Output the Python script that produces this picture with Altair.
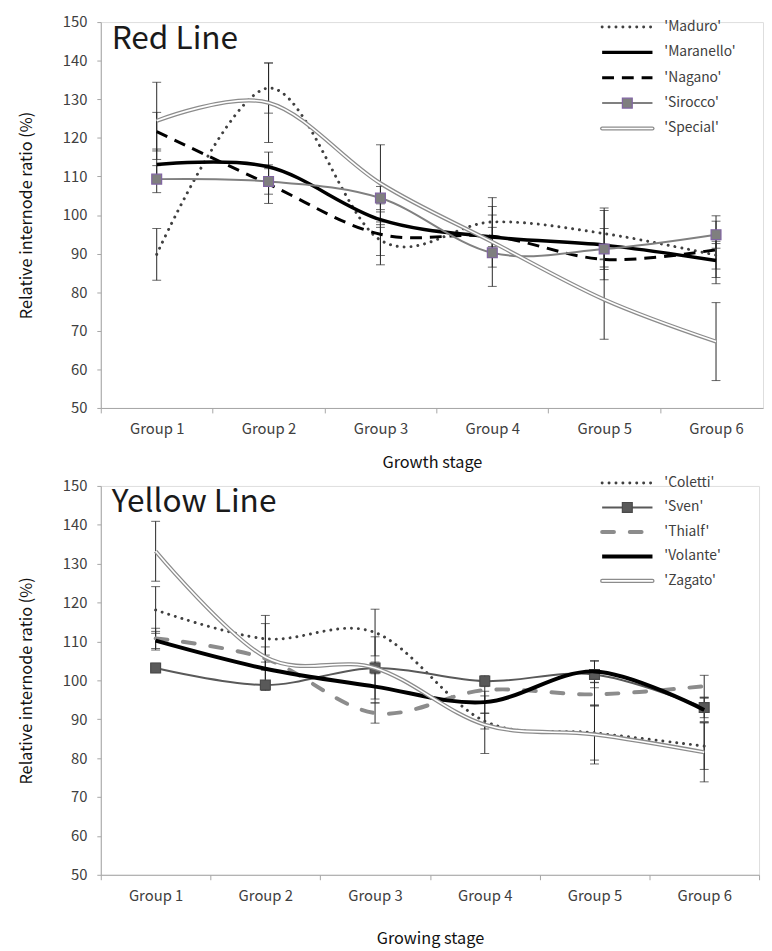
import altair as alt
import pandas as pd

FONT = "Noto Sans CJK KR"

stages = [1, 2, 3, 4, 5, 6]
group_labels = ["Group 1", "Group 2", "Group 3", "Group 4", "Group 5", "Group 6"]

# ---- Red Line panel ----
red_names = ["'Maduro'", "'Maranello'", "'Nagano'", "'Sirocco'", "'Special'"]
maduro = [89.8, 132.9, 93.5, 98.2, 95.2, 89.6]
maduro_err = [6.7, 6.5, 4.0, 4.0, 6.6, 3.6]
maranello = [113.1, 112.5, 98.8, 94.3, 92.2, 88.2]
maranello_err = [4.0, 3.8, 2.0, 2.5, 9.0, 4.4]
nagano = [121.6, 108.0, 95.0, 94.5, 88.5, 91.0]
nagano_err = [5.0, 5.0, 7.9, 5.5, 2.0, 8.8]
sirocco = [109.3, 108.7, 104.4, 90.2, 91.2, 94.9]
sirocco_err = [3.5, 3.3, 3.0, 3.7, 5.3, 3.5]
special = [124.4, 129.1, 108.2, 93.0, 78.1, 67.2]
special_err = [10.0, 10.3, 10.0, 11.5, 10.3, 10.1]

# ---- Yellow Line panel ----
yellow_names = ["'Coletti'", "'Sven'", "'Thialf'", "'Volante'", "'Zagato'"]
coletti = [118.1, 110.7, 112.3, 89.5, 86.5, 83.1]
coletti_err = [6.0, 6.0, 6.0, 2.0, 7.0, 6.0]
sven = [103.2, 98.8, 103.2, 99.8, 101.5, 93.0]
sven_err = [1.2, 1.0, 1.5, 1.4, 3.4, 2.6]
thialf = [110.8, 105.6, 91.6, 97.5, 96.4, 98.5]
thialf_err = [2.6, 3.0, 2.6, 3.0, 3.0, 2.8]
volante = [110.2, 103.0, 98.4, 94.4, 102.3, 92.4]
volante_err = [2.4, 3.5, 4.2, 2.8, 2.8, 3.0]
zagato = [133.2, 106.0, 103.2, 88.6, 86.1, 81.5]
zagato_err = [7.7, 8.6, 8.0, 7.4, 7.6, 7.6]

y_ticks = list(range(50, 151, 10))

# line styles (appearance only)
DOT = dict(kind="line", color="#404040", width=3, dash=[0.01, 7], cap="round")
SOLID_BLACK = dict(kind="line", color="#000000", width=3.5, dash=None, cap="butt")
DASH_BLACK = dict(kind="line", color="#000000", width=3, dash=[12, 8], cap="butt")
MARK_PURPLE = dict(kind="marker", color="#808080", width=2, dash=None, cap="butt",
                   fill="#7f7f7f", stroke="#8064a2")
DOUBLE = dict(kind="double", color="#8c8c8c", width=4.2, dash=None, cap="butt")
MARK_DARK = dict(kind="marker", color="#595959", width=2, dash=None, cap="butt",
                 fill="#595959", stroke="#4a4a4a")
DASH_GRAY = dict(kind="line", color="#8c8c8c", width=4, dash=[12, 16], cap="round")
SOLID_BLACK_B = dict(kind="line", color="#000000", width=4, dash=None, cap="butt")

LEG_X1, LEG_X2, LEG_TX = 508, 559, 571


def line_props(st):
    p = dict(color=st["color"], strokeWidth=st["width"], interpolate="cardinal",
             strokeCap=st["cap"])
    if st["dash"]:
        p["strokeDash"] = st["dash"]
    return p


def panel(names, values, errors, styles, title_text, x_title, width, height,
          x_max, leg_y0, leg_step, x_title_pad, title_y):
    rows = []
    for n, vals, errs in zip(names, values, errors):
        for s, v, e in zip(stages, vals, errs):
            rows.append(dict(series=n, stage=s, value=v, lo=v - e, hi=v + e))
    df = pd.DataFrame(rows)

    x_vals = [v / 2 for v in range(1, 14)]
    X = alt.X(
        "stage:Q",
        scale=alt.Scale(domain=[0.5, x_max], nice=False, zero=False),
        axis=alt.Axis(
            values=x_vals,
            labelExpr="datum.value % 1 === 0 ? 'Group ' + datum.value : ''",
            tickOpacity={"condition": {"test": "datum.value % 1 === 0", "value": 0}, "value": 1},
            labelOverlap=False, labelFlush=False,
            tickSize=5, labelPadding=9, title=x_title, titlePadding=x_title_pad,
            domainColor="#a6a6a6", tickColor="#a6a6a6", labelColor="#404040",
            labelFont=FONT, labelFontSize=15, titleFont=FONT, titleFontSize=16.5,
            titleFontWeight="normal", titleColor="#111111", grid=False,
        ),
    )
    y_scale = alt.Scale(domain=[50, 150], nice=False, zero=False)
    y_axis = alt.Axis(
        values=y_ticks, tickSize=4, labelPadding=10, labelOverlap=False,
        labelFlush=False, labelBound=False,
        title="Relative internode ratio (%)", titlePadding=28,
        domainColor="#a6a6a6", tickColor="#a6a6a6", labelColor="#404040",
        labelFont=FONT, labelFontSize=15, titleFont=FONT, titleFontSize=16.5,
        titleFontWeight="normal", titleColor="#111111", grid=False,
    )
    Y = alt.Y("value:Q", scale=y_scale, axis=y_axis)
    YLO = alt.Y("lo:Q", scale=y_scale, axis=y_axis)
    YHI = alt.Y("hi:Q", scale=y_scale, axis=y_axis)

    layers = []
    one = pd.DataFrame({"a": [0]})
    for i, (n, st) in enumerate(zip(names, styles)):
        d = df[df.series == n]
        base = alt.Chart(d)
        # error bars
        layers.append(base.mark_rule(color="#262626", strokeWidth=1).encode(
            x=X, y=YLO, y2="hi:Q"))
        layers.append(base.mark_tick(color="#262626", thickness=1, size=9,
                                     orient="horizontal").encode(x=X, y=YLO))
        layers.append(base.mark_tick(color="#262626", thickness=1, size=9,
                                     orient="horizontal").encode(x=X, y=YHI))
    for i, (n, st) in enumerate(zip(names, styles)):
        d = df[df.series == n]
        base = alt.Chart(d)
        ly = leg_y0 + i * leg_step
        if st["kind"] == "double":
            layers.append(base.mark_line(**line_props(st)).encode(x=X, y=Y))
            layers.append(base.mark_line(color="white", strokeWidth=1.6,
                                         interpolate="cardinal").encode(x=X, y=Y))
            layers.append(alt.Chart(one).mark_rule(color=st["color"], strokeWidth=4.2,
                                                   strokeCap="round").encode(
                x=alt.value(LEG_X1), x2=alt.value(LEG_X2), y=alt.value(ly)))
            layers.append(alt.Chart(one).mark_rule(color="white", strokeWidth=1.6,
                                                   strokeCap="round").encode(
                x=alt.value(LEG_X1), x2=alt.value(LEG_X2), y=alt.value(ly)))
        else:
            layers.append(base.mark_line(**line_props(st)).encode(x=X, y=Y))
            lp = dict(color=st["color"], strokeWidth=st["width"], strokeCap=st["cap"])
            if st["dash"]:
                lp["strokeDash"] = st["dash"]
            layers.append(alt.Chart(one).mark_rule(**lp).encode(
                x=alt.value(LEG_X1), x2=alt.value(LEG_X2), y=alt.value(ly)))
            if st["kind"] == "marker":
                layers.append(base.mark_square(size=100, opacity=1, fill=st["fill"],
                                               stroke=st["stroke"], strokeWidth=1.2).encode(x=X, y=Y))
                layers.append(alt.Chart(one).mark_square(size=100, opacity=1, fill=st["fill"],
                                                         stroke=st["stroke"], strokeWidth=1.2).encode(
                    x=alt.value((LEG_X1 + LEG_X2) / 2), y=alt.value(ly)))
        layers.append(alt.Chart(one).mark_text(align="left", baseline="middle", font=FONT,
                                               fontSize=14, color="#404040").encode(
            x=alt.value(LEG_TX), y=alt.value(ly), text=alt.value(n)))

    layers.append(alt.Chart(one).mark_text(align="left", baseline="alphabetic", font=FONT,
                                           fontSize=32, color="#1a1a1a").encode(
        x=alt.value(11), y=alt.value(title_y), text=alt.value(title_text)))

    return alt.layer(*layers).properties(width=width, height=height)


top = panel(red_names,
            [maduro, maranello, nagano, sirocco, special],
            [maduro_err, maranello_err, nagano_err, sirocco_err, special_err],
            [DOT, SOLID_BLACK, DASH_BLACK, MARK_PURPLE, DOUBLE],
            "Red Line", "Growth stage", 671, 391, 6.42, 5, 25.7, 18, 27)

bottom = panel(yellow_names,
               [coletti, sven, thialf, volante, zagato],
               [coletti_err, sven_err, thialf_err, volante_err, zagato_err],
               [DOT, MARK_DARK, DASH_GRAY, SOLID_BLACK_B, DOUBLE],
               "Yellow Line", "Growing stage", 667, 394, 6.5, -3, 24.8, 28, 26)

chart = alt.vconcat(top, bottom, spacing=4).properties(
    padding={"left": 10, "top": 0, "right": 0, "bottom": 0}
).configure_view(stroke=None).configure(font=FONT).configure_axis(labelOverlap=False)

chart.save("out.html", embed_options={"renderer": "svg", "actions": False})
